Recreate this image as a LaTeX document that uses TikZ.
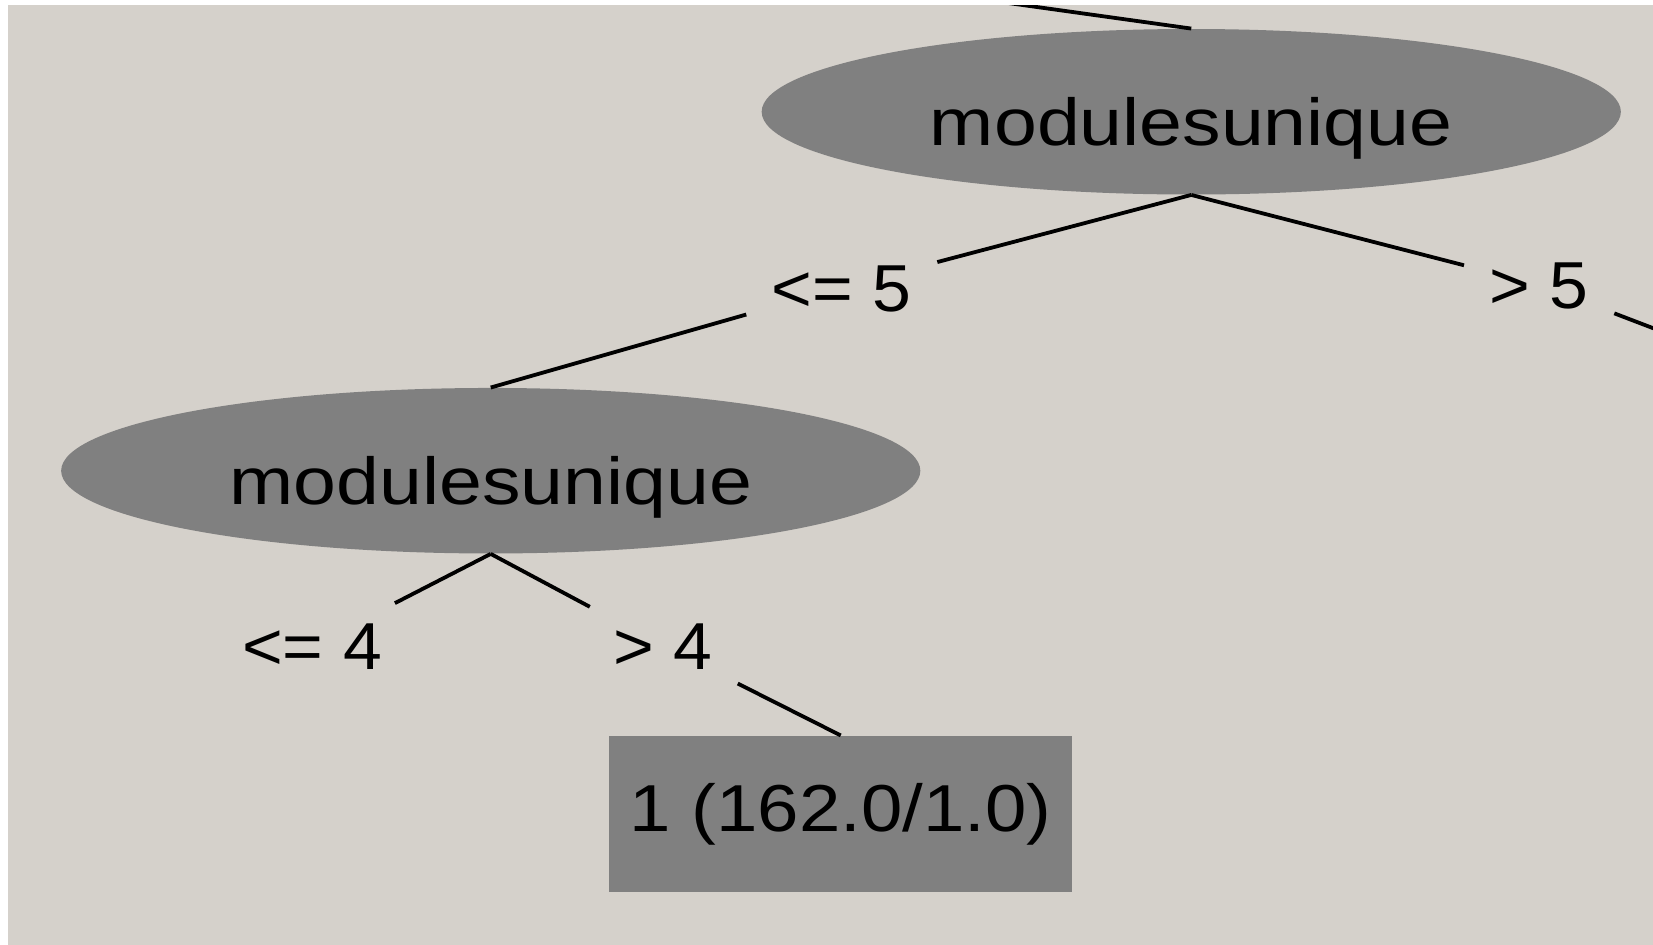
\documentclass[tikz,border=0pt]{standalone}
\usepackage{fontspec}
\usepackage{graphicx}
\setmainfont{Liberation Sans}
\usetikzlibrary{shapes.geometric}
\definecolor{panel}{HTML}{D5D1CB}
\definecolor{nodegray}{HTML}{808080}
% horizontally stretched text
\newcommand{\xwide}[2]{\scalebox{#1}[1]{#2}}
\tikzset{
  split/.style={ellipse, fill=nodegray, inner sep=0pt,
    minimum width=407.5pt, minimum height=78.5pt,
    text height=31.6pt, text depth=0pt},
  leafbox/.style={rectangle, fill=nodegray, inner sep=0pt,
    minimum width=219.5pt, minimum height=74pt,
    text height=22.5pt, text depth=6pt},
  cond/.style={rectangle, inner xsep=12pt, inner ysep=7pt,
    text height=22.5pt, text depth=0pt},
  edge/.style={line width=1.8pt, black}
}
\begin{document}
\begin{tikzpicture}[x=0.5pt, y=-0.5pt, font=\fontsize{31.5pt}{36pt}\selectfont]
\useasboundingbox (0,0) rectangle (1568,896);
\fill[white] (0,0) rectangle (1568,896);
\fill[panel] (8,5) rectangle (1568,896);
\begin{scope}
  \clip (8,5) rectangle (1568,896);
  % tree nodes
  \node[split] (root) at (1130,106) {\xwide{1.16}{modulesunique}\hspace{6pt}};
  \node[split] (mod2) at (465.5,446.5) {\xwide{1.16}{modulesunique}\hspace{6pt}};
  \node[leafbox] (leaf) at (797.5,772) {\xwide{1.12}{1 (162.0/1.0)}\hspace{3pt}};
  % branch conditions
  \node[cond] (le5) at (798.5,272.5) {\xwide{1.05}{<= 5}};
  \node[cond] (gt5) at (1460,270) {\xwide{1.05}{> 5}};
  \node[cond, inner xsep=6pt, inner ysep=14pt] (le4) at (296,612.5) {\xwide{1.05}{<= 4}};
  \node[cond] (gt4) at (628.5,612.5) {\xwide{1.05}{> 4}};
  % ends of branches running past the view
  \coordinate (up) at (800,-19);
  \coordinate (rchild) at (1800,400);
  % branches
  \draw[edge] (up) -- (root.north);
  \draw[edge] (root.south) -- (le5);
  \draw[edge] (le5) -- (mod2.north);
  \draw[edge] (root.south) -- (gt5);
  \draw[edge] (gt5) -- (rchild);
  \draw[edge] (mod2.south) -- (le4);
  \draw[edge] (mod2.south) -- (gt4);
  \draw[edge] (gt4) -- (leaf.north);
\end{scope}
\end{tikzpicture}
\end{document}
